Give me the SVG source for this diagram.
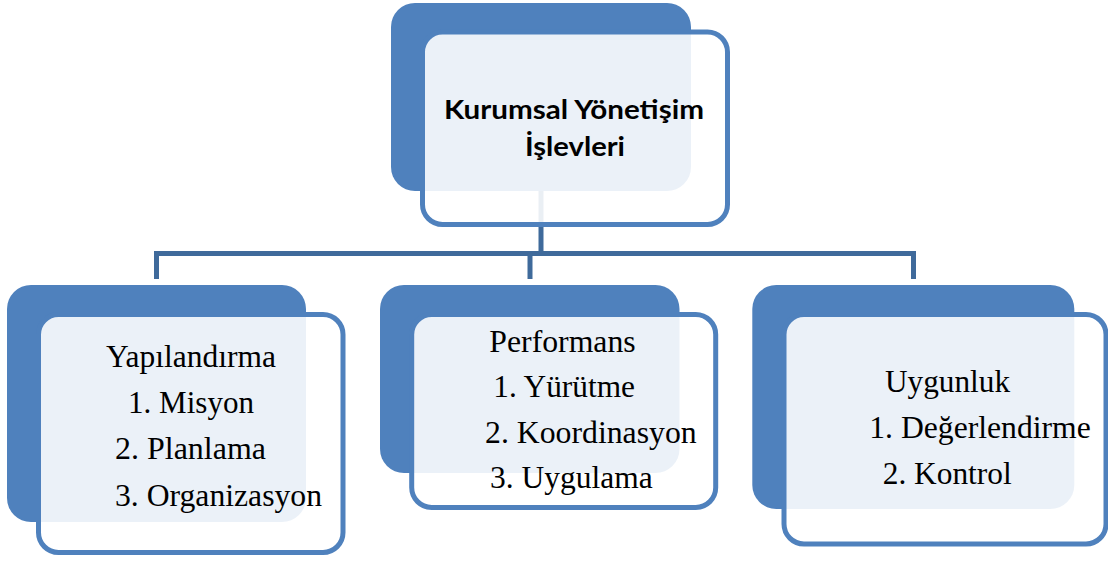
<svg xmlns="http://www.w3.org/2000/svg" width="1108" height="561" viewBox="0 0 1108 561">
  <style>
    .back { fill: #4f81bd; }
    .front { fill: #ffffff; fill-opacity: 0.89; stroke: #4f81bd; stroke-width: 5; }
    .link { fill: none; stroke: #3f6a9b; stroke-width: 5; stroke-linejoin: miter; }
    .title { font-family: Lato, "Open Sans", sans-serif; font-weight: bold; font-size: 26px; fill: #000; }
    .item { font-family: "Liberation Serif", "Times New Roman", serif; font-size: 31px; fill: #000; }
  </style>

  <!-- connectors (drawn under the boxes) -->
  <g id="connectors">
    <path class="link" d="M541 188 V253.5"/>
    <path class="link" d="M156.5 279 V253.5 H913.5 V279"/>
    <path class="link" d="M530 253.5 V279"/>
  </g>

  <!-- root -->
  <g id="node-root">
    <rect class="back" x="391" y="3" width="300" height="188" rx="24"/>
    <rect class="front" x="422.5" y="32" width="305" height="192.5" rx="20"/>
    <text class="title" x="444" y="119" textLength="260" lengthAdjust="spacingAndGlyphs">Kurumsal Yönetişim</text>
    <text class="title" x="525" y="156" textLength="100" lengthAdjust="spacingAndGlyphs">İşlevleri</text>
  </g>

  <!-- left branch -->
  <g id="node-yapilandirma">
    <rect class="back" x="7" y="285" width="299" height="237" rx="24"/>
    <rect class="front" x="38.5" y="314.5" width="304.5" height="238" rx="20"/>
    <text class="item" x="106" y="366.7" textLength="170" lengthAdjust="spacingAndGlyphs">Yapılandırma</text>
    <text class="item" x="128" y="413" textLength="126" lengthAdjust="spacingAndGlyphs">1. Misyon</text>
    <text class="item" x="115" y="459" textLength="151" lengthAdjust="spacingAndGlyphs">2. Planlama</text>
    <text class="item" x="115" y="506" textLength="207" lengthAdjust="spacingAndGlyphs">3. Organizasyon</text>
  </g>

  <!-- middle branch -->
  <g id="node-performans">
    <rect class="back" x="380" y="285" width="299.5" height="188" rx="24"/>
    <rect class="front" x="411.7" y="314.5" width="304" height="193" rx="20"/>
    <text class="item" x="489.3" y="351.7" textLength="146.4" lengthAdjust="spacingAndGlyphs">Performans</text>
    <text class="item" x="493.3" y="397.3" textLength="141.7" lengthAdjust="spacingAndGlyphs">1. Yürütme</text>
    <text class="item" x="485" y="443.3" textLength="211.7" lengthAdjust="spacingAndGlyphs">2. Koordinasyon</text>
    <text class="item" x="490" y="488.3" textLength="162.7" lengthAdjust="spacingAndGlyphs">3. Uygulama</text>
  </g>

  <!-- right branch -->
  <g id="node-uygunluk">
    <rect class="back" x="752.3" y="285" width="322" height="224" rx="24"/>
    <rect class="front" x="784" y="314.5" width="322" height="229.5" rx="20"/>
    <text class="item" x="885" y="391.7" textLength="125" lengthAdjust="spacingAndGlyphs">Uygunluk</text>
    <text class="item" x="869.3" y="438.3" textLength="221.4" lengthAdjust="spacingAndGlyphs">1. Değerlendirme</text>
    <text class="item" x="882.7" y="484" textLength="129" lengthAdjust="spacingAndGlyphs">2. Kontrol</text>
  </g>
</svg>
